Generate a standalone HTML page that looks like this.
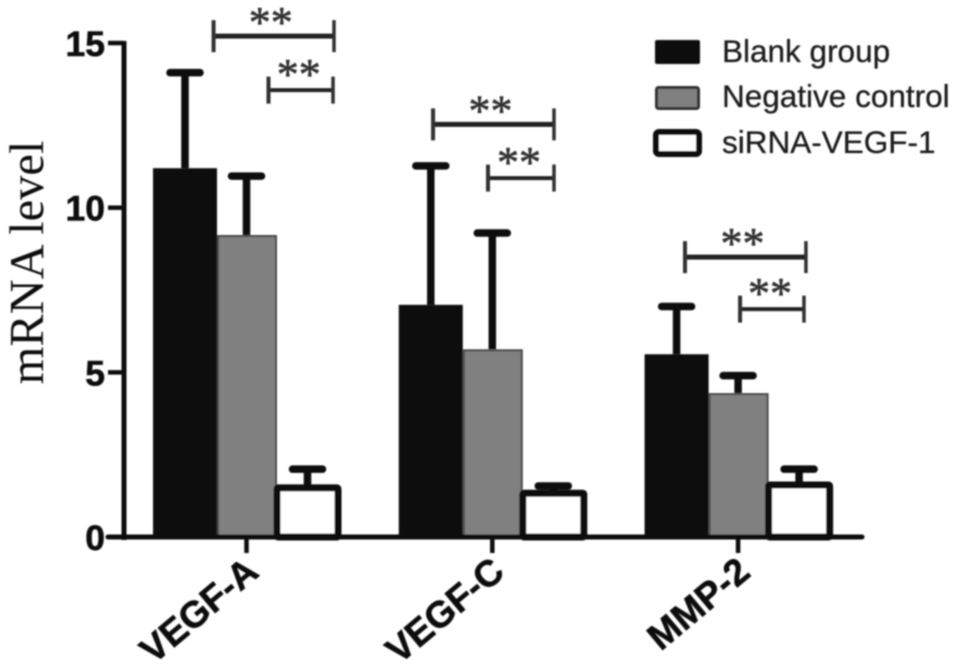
<!DOCTYPE html>
<html lang="en">
<head>
<meta charset="utf-8">
<title>mRNA level bar chart</title>
<style>
html,body{margin:0;padding:0;background:#fff;}
svg{display:block;}
</style>
</head>
<body>
<svg id="chart" xmlns="http://www.w3.org/2000/svg" width="957" height="672" viewBox="0 0 957 672">
<defs><filter id="soft" x="-2%" y="-2%" width="104%" height="104%"><feGaussianBlur stdDeviation="0.7"/></filter></defs>
<g id="root" filter="url(#soft)"></g>
</svg>
<script>
var categories = ['VEGF-A', 'VEGF-C', 'MMP-2'];
var seriesNames = ['Blank group', 'Negative control', 'siRNA-VEGF-1'];
var blankValues = [11.2, 7.05, 5.55];
var negativeValues = [9.17, 5.7, 4.37];
var sirnaValues = [1.49, 1.33, 1.58];
var blankErrorTops = [14.1, 11.27, 7.0];
var negativeErrorTops = [10.96, 9.23, 4.9];
var sirnaErrorTops = [2.06, 1.55, 2.06];
var yTicks = [0, 5, 10, 15];
/* significance brackets: category-position start/end and value level */
var bracketStarts = [-0.134, 0.759, 1.784, 0.0895, 0.9825, 2.008];
var bracketEnds = [0.356, 1.251, 2.276, 0.352, 1.251, 2.268];
var bracketLevels = [15.21, 12.53, 8.5, 13.57, 10.9, 6.92];

var NS = 'http://www.w3.org/2000/svg';
var root = document.getElementById('root');
function yScale(v) { return 537 - v * 32.93; }
function xScale(c) { return 246.5 + c * 245.8; }
var stemOffset = [-61.5, 0, 61];
var barLeftOffset = [-93.5, -29.5, 30.5];
var barWidths = [64, 60, 61];
var seriesValues = [blankValues, negativeValues, sirnaValues];
var seriesErrors = [blankErrorTops, negativeErrorTops, sirnaErrorTops];

function line(x1, y1, x2, y2, w, color, name, cap) {
  var el = document.createElementNS(NS, 'line');
  el.setAttribute('x1', x1);
  el.setAttribute('y1', y1);
  el.setAttribute('x2', x2);
  el.setAttribute('y2', y2);
  el.setAttribute('stroke', color);
  el.setAttribute('stroke-width', w);
  el.setAttribute('stroke-linecap', cap || 'butt');
  
  
  root.appendChild(el);
  return el;
}
function text(str, x, y, size, opts, name) {
  var el = document.createElementNS(NS, 'text');
  el.textContent = str;
  el.setAttribute('x', x);
  el.setAttribute('y', y);
  el.setAttribute('font-size', size);
  el.setAttribute('font-family', opts.family || '"Liberation Sans", sans-serif');
  el.setAttribute('font-weight', opts.weight || 'normal');
  el.setAttribute('fill', opts.fill || '#111');
  el.setAttribute('text-anchor', opts.anchor || 'start');
  if (opts.stroke) {
    el.setAttribute('stroke', opts.fill || '#111');
    el.setAttribute('stroke-width', opts.stroke);
  }
  if (opts.transform) el.setAttribute('transform', opts.transform);
  
  
  root.appendChild(el);
  return el;
}
function box(x, y, w, h, fill, stroke, sw, rx, name) {
  var el = document.createElementNS(NS, 'rect');
  el.setAttribute('x', x);
  el.setAttribute('y', y);
  el.setAttribute('width', w);
  el.setAttribute('height', h);
  el.setAttribute('fill', fill);
  el.setAttribute('stroke', stroke);
  el.setAttribute('stroke-width', sw);
  el.setAttribute('rx', rx);
  
  
  root.appendChild(el);
  return el;
}

var fills = ['#111111', '#808080', '#ffffff'];
var slug = ['blank', 'negative', 'sirna'];

/* error bars drawn first so they sit behind bars */
seriesValues.forEach(function (vals, s) {
  vals.forEach(function (v, c) {
    var cx = xScale(c) + stemOffset[s];
    var top = yScale(seriesErrors[s][c]);
    line(cx, yScale(v), cx, top, 7.5, '#0c0c0c', 'error-stem-' + slug[s] + '-' + c);
    line(cx - 15, top, cx + 15, top, 7.5, '#0c0c0c', 'error-cap-' + slug[s] + '-' + c, 'round');
  });
});
/* bars */
seriesValues.forEach(function (vals, s) {
  vals.forEach(function (v, c) {
    var left = xScale(c) + barLeftOffset[s];
    var top = yScale(v);
    var h = yScale(0) - top;
    if (s === 2) {
      box(left, top, barWidths[s], h, fills[s], '#0c0c0c', 7, 1, 'bar-' + slug[s] + '-' + c);
    } else if (s === 1) {
      box(left + 1, top + 1, barWidths[s] - 2, h - 1, fills[s], '#4a4a4a', 2, 0, 'bar-' + slug[s] + '-' + c);
    } else {
      box(left, top, barWidths[s], h, fills[s], 'none', 0, 0, 'bar-' + slug[s] + '-' + c);
    }
  });
});
/* axes */
line(124, 41, 124, 540, 5, '#111', 'y-axis-line');
line(108, 537, 862, 537, 5, '#111', 'x-axis-line', 'round');
yTicks.forEach(function (t) {
  var y = yScale(t);
  line(108, y, 124, y, 4.5, '#111', 'y-tick-' + t);
  text(String(t), 105, y + 13, 35.5, { weight: 'bold', anchor: 'end', stroke: 0.6 }, 'y-tick-label-' + t);
});
categories.forEach(function (name, c) {
  var x = xScale(c);
  line(x, 537, x, 553, 4.5, '#111', 'x-tick-' + name);
  var ax = x + 14, ay = 575;
  text(name, ax, ay, 37, { weight: 'bold', anchor: 'end', stroke: 0.6, transform: 'rotate(-40 ' + ax + ' ' + ay + ')' }, 'x-tick-label-' + name);
});
text('mRNA level', 43, 262.5, 48.5, {
  family: '"Liberation Serif", serif', anchor: 'middle', transform: 'rotate(-90 43 262.5)'
}, 'y-axis-title');

/* brackets */
bracketLevels.forEach(function (lvl, i) {
  var x1 = xScale(bracketStarts[i]);
  var x2 = xScale(bracketEnds[i]);
  var y = yScale(lvl);
  var large = i < 3;
  var half = large ? 16 : 13.5;
  line(x1, y, x2, y, large ? 5 : 4, '#222', 'significance-bracket-' + i);
  line(x1, y - half, x1, y + half, 4, '#333', 'significance-bracket-left-' + i);
  line(x2, y - half, x2, y + half, 3.5, '#333', 'significance-bracket-right-' + i);
  text('**', (x1 + x2) / 2 - 3 + (large ? 0 : 1), y + (large ? 1 : -1), 44, {
    family: '"Liberation Serif", serif', anchor: 'middle', fill: '#333', stroke: 0.6
  }, 'significance-stars-' + i);
});

/* legend */
var legendBaselines = [62, 107, 153];
var swatchTops = [40, 86, 132];
var swatchHeights = [24, 24, 22];
seriesNames.forEach(function (n, i) {
  var top = swatchTops[i];
  var h = swatchHeights[i];
  if (i === 0) {
    box(655, top, 45, h, fills[0], 'none', 0, 2, 'legend-swatch-' + slug[i]);
  } else if (i === 1) {
    box(656.5, top + 1.5, 42, h - 3, fills[1], '#333', 3, 2, 'legend-swatch-' + slug[i]);
  } else {
    box(656, top, 43, h, fills[2], '#0c0c0c', 6, 3, 'legend-swatch-' + slug[i]);
  }
  text(n, 722, legendBaselines[i], 31.5, { fill: '#1c1c1c', stroke: 0.3 }, 'legend-label-' + slug[i]);
});
</script>
</body>
</html>
